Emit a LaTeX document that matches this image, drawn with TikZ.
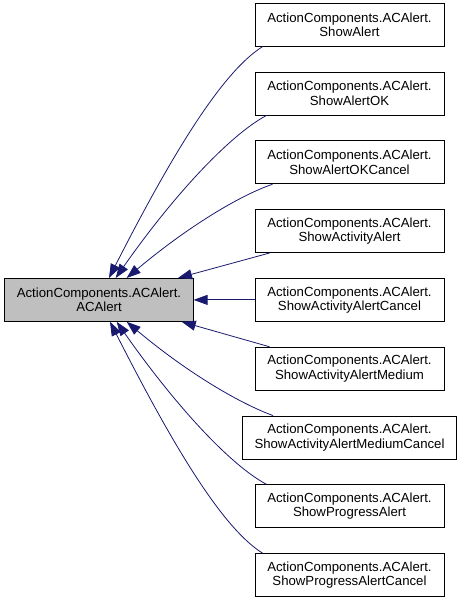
\documentclass[tikz,border=0pt]{standalone}
\usepackage{fontspec}
\setmainfont{Liberation Sans}
\usetikzlibrary{arrows.meta,positioning}
\definecolor{edgeblue}{RGB}{25,25,112}
\definecolor{basegray}{RGB}{191,191,191}

\begin{document}
\begin{tikzpicture}[x=1pt, y=1pt,
    cls/.style={draw=black, line width=0.8pt, align=center, minimum width=189pt,
      minimum height=43pt, inner xsep=12pt, inner ysep=2pt,
      font=\fontsize{13.2}{14.5}\selectfont},
    inherit/.style={draw=edgeblue, line width=0.8pt, -{Triangle[length=14pt,width=10pt]}}]
    \useasboundingbox (0,0) rectangle (461,597);

    % derived classes, one column
    \node[cls] (showalert) at (349.5,572.3) {ActionComponents.ACAlert.\\ShowAlert};
    \node[cls, below=25pt of showalert] (showalertok) {ActionComponents.ACAlert.\\ShowAlertOK};
    \node[cls, below=25pt of showalertok] (okcancel) {ActionComponents.ACAlert.\\ShowAlertOKCancel};
    \node[cls, below=25pt of okcancel] (activity) {ActionComponents.ACAlert.\\ShowActivityAlert};
    \node[cls, below=25pt of activity] (activitycancel) {ActionComponents.ACAlert.\\ShowActivityAlertCancel};
    \node[cls, below=25pt of activitycancel] (medium) {ActionComponents.ACAlert.\\ShowActivityAlertMedium};
    \node[cls, below=25pt of medium] (mediumcancel) {ActionComponents.ACAlert.\\ShowActivityAlertMediumCancel};
    \node[cls, below=25pt of mediumcancel] (progress) {ActionComponents.ACAlert.\\ShowProgressAlert};
    \node[cls, below=25pt of progress] (progresscancel) {ActionComponents.ACAlert.\\ShowProgressAlertCancel};

    % base class, level with the middle one
    \node[cls, fill=basegray, minimum width=188pt] (acalert) at (activitycancel -| 99,0)
      {ActionComponents.ACAlert.\\ACAlert};

    % inheritance edges, upper half
    \draw[inherit] ([xshift=8pt]showalert.south west)
      .. controls +(212:50) and +(63:130) .. ([xshift=10pt]acalert.north);
    \draw[inherit] ([xshift=12pt]showalertok.south west)
      .. controls +(208:42) and +(55:100) .. ([xshift=16.7pt]acalert.north);
    \draw[inherit] ([xshift=18pt]okcancel.south west)
      .. controls +(199:35) and +(40:80) .. ([xshift=27.7pt]acalert.north);
    \draw[inherit] ([xshift=15pt]activity.south west) -- ([xshift=79pt]acalert.north);

    % straight across
    \draw[inherit] (activitycancel.west) -- (acalert.east);

    % lower half
    \draw[inherit] ([xshift=15pt]medium.north west) -- ([xshift=82.7pt]acalert.south);
    \draw[inherit] ([xshift=31pt]mediumcancel.north west)
      .. controls +(160:35) and +(-40:80) .. ([xshift=27.7pt]acalert.south);
    \draw[inherit] ([xshift=12pt]progress.north west)
      .. controls +(152:42) and +(-55:100) .. ([xshift=17.7pt]acalert.south);
    \draw[inherit] ([xshift=8pt]progresscancel.north west)
      .. controls +(148:50) and +(-63:130) .. ([xshift=11pt]acalert.south);
  \end{tikzpicture}
\end{document}
